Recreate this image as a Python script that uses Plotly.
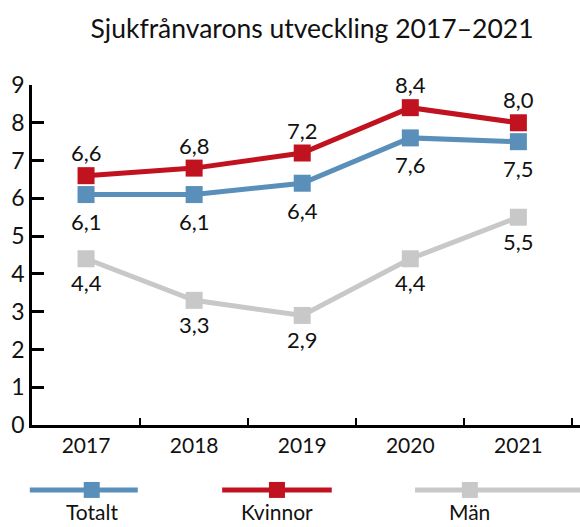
import plotly.graph_objects as go

# Sick-leave rates (%) by year and group
years = ["2017", "2018", "2019", "2020", "2021"]
totalt = [6.1, 6.1, 6.4, 7.6, 7.5]
kvinnor = [6.6, 6.8, 7.2, 8.4, 8.0]
man = [4.4, 3.3, 2.9, 4.4, 5.5]

series_names = ["Totalt", "Kvinnor", "Män"]
colors = ["#5a8fb9", "#c1121f", "#c8c8c8"]
label_shift = [-27, 23, -24]   # value labels: below, above, below the marker

FONT = "Lato"

def fmt(v):
    return f"{v:.1f}".replace(".", ",")

fig = go.Figure()
for name, vals, col, dy in zip(series_names, [totalt, kvinnor, man], colors, label_shift):
    fig.add_trace(go.Scatter(
        x=years, y=vals, name=name, mode="lines+markers",
        line=dict(color=col, width=5),
        marker=dict(symbol="square", size=17, color=col),
        cliponaxis=False, showlegend=False,
    ))
    # category axis: annotations are positioned by category index
    for i, v in enumerate(vals):
        fig.add_annotation(x=i, y=v, text=fmt(v), showarrow=False, yshift=dy,
                           xanchor="center", yanchor="middle",
                           font=dict(family=FONT, size=22, color="#111111"))

# Legend drawn below the plot area: line with a square marker, name underneath
leg_x = [0.109, 0.447, 0.799]
leg_span = [(-0.004, 0.193), (0.347, 0.547), (0.699, 1.02)]
leg_y = -0.191
for name, col, cx, (x0, x1) in zip(series_names, colors, leg_x, leg_span):
    fig.add_shape(type="line", xref="paper", yref="paper",
                  x0=x0, x1=x1, y0=leg_y, y1=leg_y,
                  line=dict(color=col, width=5))
    fig.add_shape(type="rect", xref="paper", yref="paper",
                  x0=cx - 0.0146, x1=cx + 0.0146, y0=leg_y - 0.0235, y1=leg_y + 0.0235,
                  fillcolor=col, line=dict(width=0))
    fig.add_annotation(text=name, xref="paper", yref="paper", x=cx, y=-0.298,
                       xanchor="center", yanchor="bottom", showarrow=False,
                       font=dict(family=FONT, size=21, color="#111111"))

fig.update_layout(
    width=580, height=527,
    margin=dict(l=32, r=0, t=85, b=102),
    paper_bgcolor="white", plot_bgcolor="white",
    title=dict(text="Sjukfrånvarons utveckling 2017–2021", x=0.538, xanchor="center",
               y=0.945, yanchor="middle",
               font=dict(family=FONT, size=26.5, color="#111111")),
    font=dict(family=FONT, color="#111111"),
)
fig.update_xaxes(
    type="category", range=[-0.5, 4.57],
    showline=True, linecolor="black", linewidth=2.5,
    ticks="inside", tickson="boundaries", ticklen=7, tickwidth=2, tickcolor="black",
    showgrid=False, zeroline=False,
    tickfont=dict(family=FONT, size=21, color="#111111"),
)
fig.update_yaxes(
    range=[0, 9], dtick=1,
    showline=True, linecolor="black", linewidth=2.5,
    ticks="inside", ticklen=12, tickwidth=2.5, tickcolor="black",
    showgrid=False, zeroline=False,
    tickfont=dict(family=FONT, size=23, color="#111111"),
)

fig.write_html("out.html")
